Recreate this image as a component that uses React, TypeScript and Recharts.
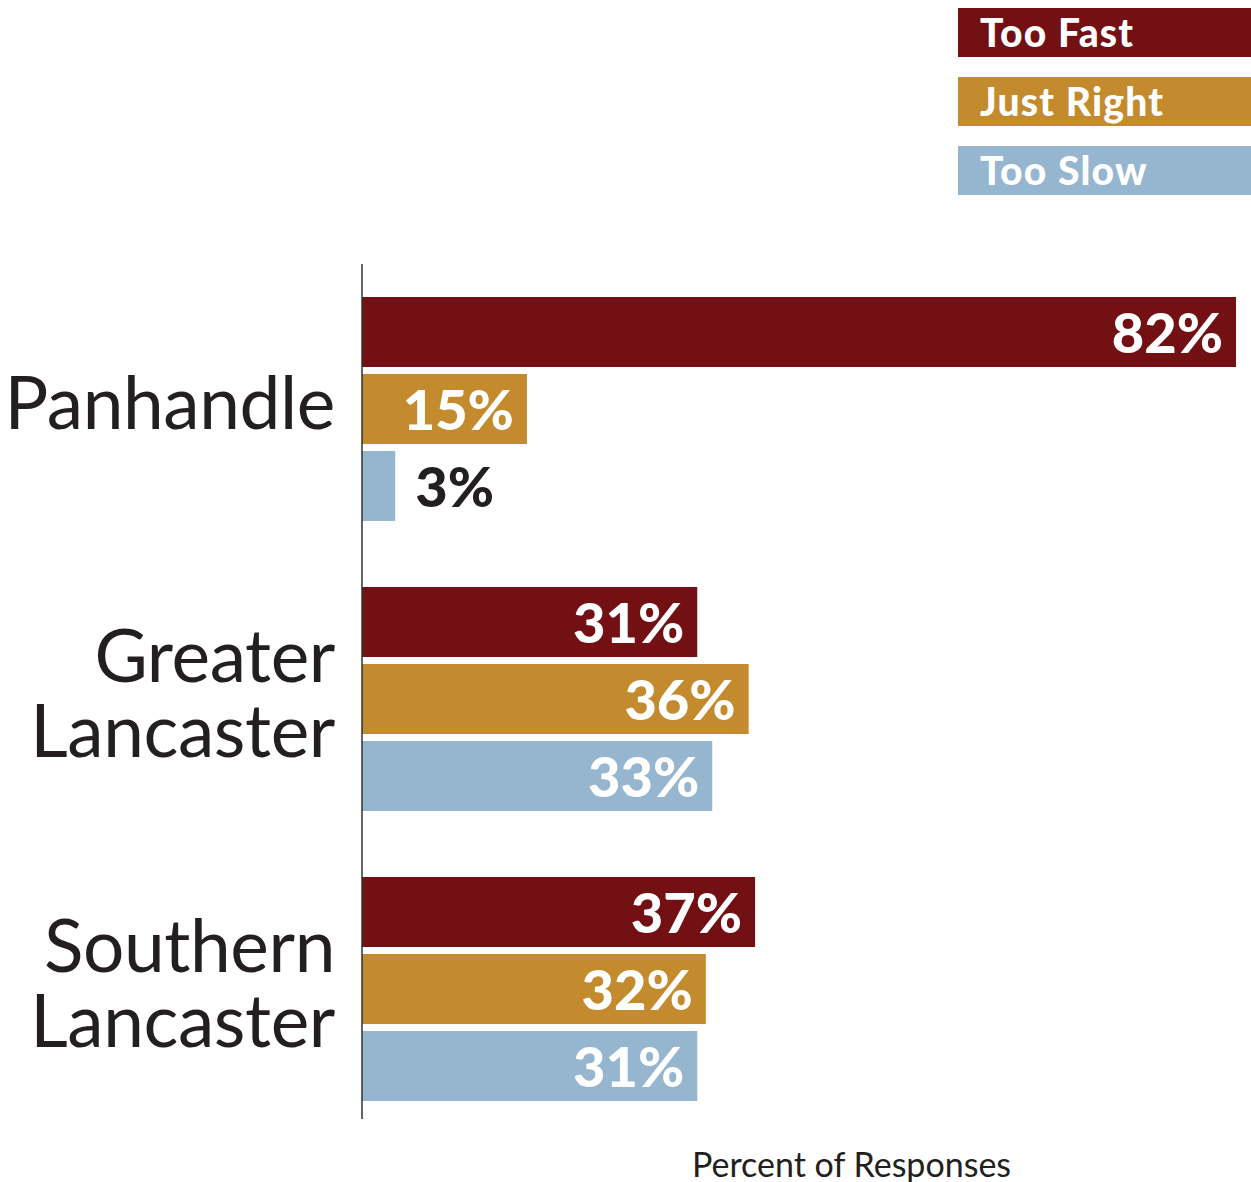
import { BarChart, Bar, XAxis, YAxis, Legend, LabelList, Label } from 'recharts'

const categories = ['Panhandle', 'Greater\nLancaster', 'Southern\nLancaster']
const tooFast = [81.6, 31.3, 36.7]
const justRight = [15.4, 36.1, 32.1]
const tooSlow = [3.1, 32.7, 31.3]

const seriesNames = ['Too Fast', 'Just Right', 'Too Slow']
const seriesKeys = ['tooFast', 'justRight', 'tooSlow']
const colors = ['#731014', '#c48b2e', '#96b5cf']

const data = categories.map((name, i) => ({
  name,
  tooFast: tooFast[i],
  justRight: justRight[i],
  tooSlow: tooSlow[i],
}))

const FONT = "Lato, 'Open Sans', sans-serif"
const DARK = '#231f20'

const CategoryTick = ({ x, y, payload }: any) => {
  const lines = String(payload.value).split('\n')
  return (
    <text x={x} textAnchor="end" fontFamily={FONT} fontSize={73} letterSpacing={-0.4} fill={DARK}>
      {lines.map((line, i) => (
        <tspan key={line} x={x} y={y + 20 + (i - (lines.length - 1) / 2) * 75}>
          {line}
        </tspan>
      ))}
    </text>
  )
}

// small bars get a dark label after the bar, the rest a white one inside
const ValueLabel = ({ x, y, width, height, value }: any) => {
  const small = width < 60
  return (
    <text
      x={small ? x + width + 20 : x + width - 13}
      y={y + height / 2 + 21}
      textAnchor={small ? 'start' : 'end'}
      fontFamily={FONT}
      fontWeight={900}
      fontSize={56}
      fill={small ? DARK : '#ffffff'}
    >
      {`${Math.round(value)}%`}
    </text>
  )
}

const LegendBoxes = () => (
  <div style={{ display: 'flex', flexDirection: 'column', alignItems: 'flex-end' }}>
    {seriesNames.map((name, i) => (
      <div
        key={name}
        style={{
          width: 293,
          height: 49,
          marginTop: i === 0 ? 0 : 20,
          background: colors[i],
          color: '#ffffff',
          fontFamily: FONT,
          fontWeight: 900,
          fontSize: 39,
          letterSpacing: 1.2,
          lineHeight: '49px',
          paddingLeft: 22,
          boxSizing: 'border-box',
          textAlign: 'left',
          whiteSpace: 'nowrap',
        }}
      >
        {name}
      </div>
    ))}
  </div>
)

const App = () => {
  return (
    <>
      <style>{'body { margin: 0; }'}</style>
      <BarChart
        width={1251}
        height={1182}
        data={data}
        layout="vertical"
        margin={{ top: 77, right: 0, bottom: 0, left: 0 }}
        barSize={70}
        barGap={7}
      >
        <Legend
          verticalAlign="top"
          align="right"
          layout="horizontal"
          wrapperStyle={{ top: 8, right: 0 }}
          content={() => <LegendBoxes />}
        />
        <XAxis
          type="number"
          domain={[0, 83]}
          tick={false}
          axisLine={false}
          tickLine={false}
          height={63}
        >
          <Label
            content={({ viewBox }: any) => (
              <text
                x={viewBox.x + viewBox.width / 2 + 45}
                y={viewBox.y + 58}
                textAnchor="middle"
                fontFamily={FONT}
                fontSize={34}
                fill={DARK}
              >
                Percent of Responses
              </text>
            )}
          />
        </XAxis>
        <YAxis
          type="category"
          dataKey="name"
          width={362}
          axisLine={{ stroke: '#333333', strokeWidth: 1.5 }}
          tickLine={false}
          tickSize={0}
          tickMargin={27}
          padding={{ top: 0, bottom: -15 }}
          tick={<CategoryTick />}
          interval={0}
        />
        {seriesKeys.map((key, i) => (
          <Bar key={key} dataKey={key} name={seriesNames[i]} fill={colors[i]} isAnimationActive={false}>
            <LabelList dataKey={key} content={<ValueLabel />} />
          </Bar>
        ))}
      </BarChart>
    </>
  )
}

export default App
